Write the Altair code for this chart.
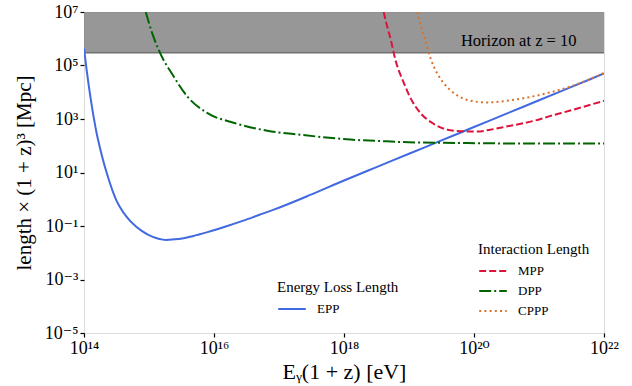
import altair as alt
import pandas as pd

# ---- data (log10 of energy in eV, log10 of length*(1+z)^3 in Mpc) ----
epp_logE = [14.0, 14.04, 14.07, 14.11, 14.15, 14.2, 14.25, 14.3, 14.38, 14.45, 14.5, 14.55,
            14.65, 14.8, 14.9, 15.05, 15.26, 15.45, 15.67, 15.9, 16.18, 16.45, 16.69, 16.92,
            17.5, 18.0, 18.5, 19.0, 19.5, 20.0, 20.5, 21.0, 21.5, 22.0]
epp_logL = [5.64, 4.85, 4.3, 3.65, 3.05, 2.4, 1.88, 1.4, 0.75, 0.25, -0.05, -0.28,
            -0.64, -1.02, -1.2, -1.4, -1.52, -1.49, -1.38, -1.23, -1.02, -0.8, -0.59, -0.39,
            0.18, 0.7, 1.2, 1.7, 2.2, 2.7, 3.2, 3.7, 4.2, 4.7]

mpp_logE = [18.61, 18.66, 18.72, 18.79, 18.92, 19.05, 19.2, 19.38, 19.59, 19.84, 20.05, 20.25,
            20.5, 20.92, 21.13, 21.5, 22.0]
mpp_logL = [7.0, 6.5, 5.96, 5.22, 4.35, 3.66, 3.16, 2.82, 2.6, 2.54, 2.53, 2.6,
            2.72, 2.93, 3.08, 3.33, 3.68]

dpp_logE = [14.95, 15.05, 15.17, 15.38, 15.59, 15.9, 16.3, 16.82, 17.33, 17.64, 18.1, 18.6,
            19.0, 19.9, 21.0, 22.0]
dpp_logL = [7.0, 6.2, 5.47, 4.59, 3.84, 3.22, 2.86, 2.56, 2.41, 2.33, 2.23, 2.17,
            2.13, 2.1, 2.08, 2.08]

cppp_logE = [19.13, 19.19, 19.25, 19.33, 19.43, 19.53, 19.66, 19.84, 20.0, 20.2, 20.4, 20.61,
             20.9, 21.13, 21.4, 21.64, 22.0]
cppp_logL = [7.0, 6.4, 5.96, 5.28, 4.72, 4.35, 4.03, 3.76, 3.66, 3.62, 3.65, 3.72,
             3.84, 3.97, 4.15, 4.35, 4.72]

horizon_low = 3e5
horizon_high = 1e7
horizon_label = "Horizon at z = 10"
horizon_label_E = 3.78e21
horizon_label_L = 10 ** 5.9

x_exps = [14, 16, 18, 20, 22]
y_exps = [-5, -3, -1, 1, 3, 5, 7]

inter_names = ["MPP", "DPP", "CPPP"]
inter_colors = ["#dc143c", "#006400", "#d9722c"]
inter_dashes = [[7, 3], [12, 3, 2, 3], [2, 3.2]]
epp_color = "#4169e1"

FONT = "Liberation Serif, DejaVu Serif, serif"


def frame(name, le, ll):
    return pd.DataFrame({"E": [10 ** v for v in le], "L": [10 ** v for v in ll], "process": name})


epp_df = frame("EPP", epp_logE, epp_logL)
inter_df = pd.concat([frame("MPP", mpp_logE, mpp_logL),
                      frame("DPP", dpp_logE, dpp_logL),
                      frame("CPPP", cppp_logE, cppp_logL)], ignore_index=True)

sup = str.maketrans("-0123456789", "⁻⁰¹²³⁴⁵⁶⁷⁸⁹")


def label_expr(exps):
    parts = [f"round(log(datum.value)/LN10) == {e} ? '10{str(e).translate(sup)}'" for e in exps]
    return " : ".join(parts) + " : ''"


xscale = alt.Scale(type="log", domain=[1e14, 1e22], nice=False)
yscale = alt.Scale(type="log", domain=[1e-5, 1e7], nice=False)

xaxis = alt.Axis(values=[10.0 ** e for e in x_exps], labelExpr=label_expr(x_exps),
                 title="Eᵧ(1 + z) [eV]", grid=False, labelFont=FONT, labelFontSize=18,
                 titleFont=FONT, titleFontSize=22, titleFontWeight="normal", titleColor="black",
                 labelColor="black", tickColor="black", tickSize=4, tickWidth=1.2,
                 labelPadding=2, titlePadding=4, domain=False, labelFlush=False)
yaxis = alt.Axis(values=[10.0 ** e for e in y_exps], labelExpr=label_expr(y_exps),
                 title="length × (1 + z)³ [Mpc]", grid=False, labelFont=FONT, labelFontSize=18,
                 titleFont=FONT, titleFontSize=21, titleFontWeight="normal", titleColor="black",
                 labelColor="black", tickColor="black", tickSize=4, tickWidth=1.2,
                 labelPadding=2, titlePadding=10, domain=False, labelFlush=False)

x_enc = alt.X("E:Q", scale=xscale, axis=xaxis)
y_enc = alt.Y("L:Q", scale=yscale, axis=yaxis)

band_df = pd.DataFrame({"E": [1e14], "E2": [1e22], "L": [horizon_low], "L2": [horizon_high]})
band = alt.Chart(band_df).mark_rect(color="#808080", opacity=0.82).encode(
    x=x_enc, x2="E2:Q", y=y_enc, y2="L2:Q")
band_edge = alt.Chart(band_df).mark_rule(color="#707070", strokeWidth=1.5).encode(
    x=x_enc, x2="E2:Q", y=y_enc)
horizon_text = alt.Chart(pd.DataFrame({"E": [horizon_label_E], "L": [horizon_label_L],
                                       "t": [horizon_label]})).mark_text(
    align="right", baseline="middle", font=FONT, fontSize=16.5, color="black").encode(
    x=x_enc, y=y_enc, text="t:N")

leg_common = dict(orient="none", titleFont=FONT, titleFontSize=15, titleFontWeight="normal",
                  titleColor="black", labelFont=FONT, labelFontSize=13, labelColor="black",
                  symbolSize=760, symbolStrokeWidth=2, symbolType="stroke", padding=0,
                  clipHeight=14, rowPadding=6, titlePadding=7, labelOffset=10)

epp_line = alt.Chart(epp_df).mark_line(strokeWidth=2, clip=True, interpolate="monotone").encode(
    x=x_enc, y=y_enc,
    color=alt.Color("process:N", scale=alt.Scale(domain=["EPP"], range=[epp_color]),
                    legend=alt.Legend(title="Energy Loss Length", legendX=193, legendY=268,
                                      **leg_common)),
    order="E:Q")

inter_leg = alt.Legend(title="Interaction Length", legendX=394, legendY=230, **leg_common)
inter_lines = alt.Chart(inter_df).mark_line(strokeWidth=2, clip=True, interpolate="monotone").encode(
    x=x_enc, y=y_enc,
    color=alt.Color("process:N", scale=alt.Scale(domain=inter_names, range=inter_colors),
                    legend=inter_leg),
    strokeDash=alt.StrokeDash("process:N", scale=alt.Scale(domain=inter_names, range=inter_dashes),
                              legend=inter_leg),
    order="E:Q")

chart = alt.layer(band, band_edge, horizon_text, epp_line, inter_lines).resolve_scale(
    color="independent", strokeDash="independent").resolve_legend(
    color="independent", strokeDash="independent").properties(
    width=520, height=321,
    autosize=alt.AutoSizeParams(type="none"),
    padding={"left": 84, "top": 12, "right": 28, "bottom": 53},
).configure_view(stroke="black", strokeWidth=1.5).configure(background="white")

chart.save("out.html", embed_options={"renderer": "svg", "actions": False})
